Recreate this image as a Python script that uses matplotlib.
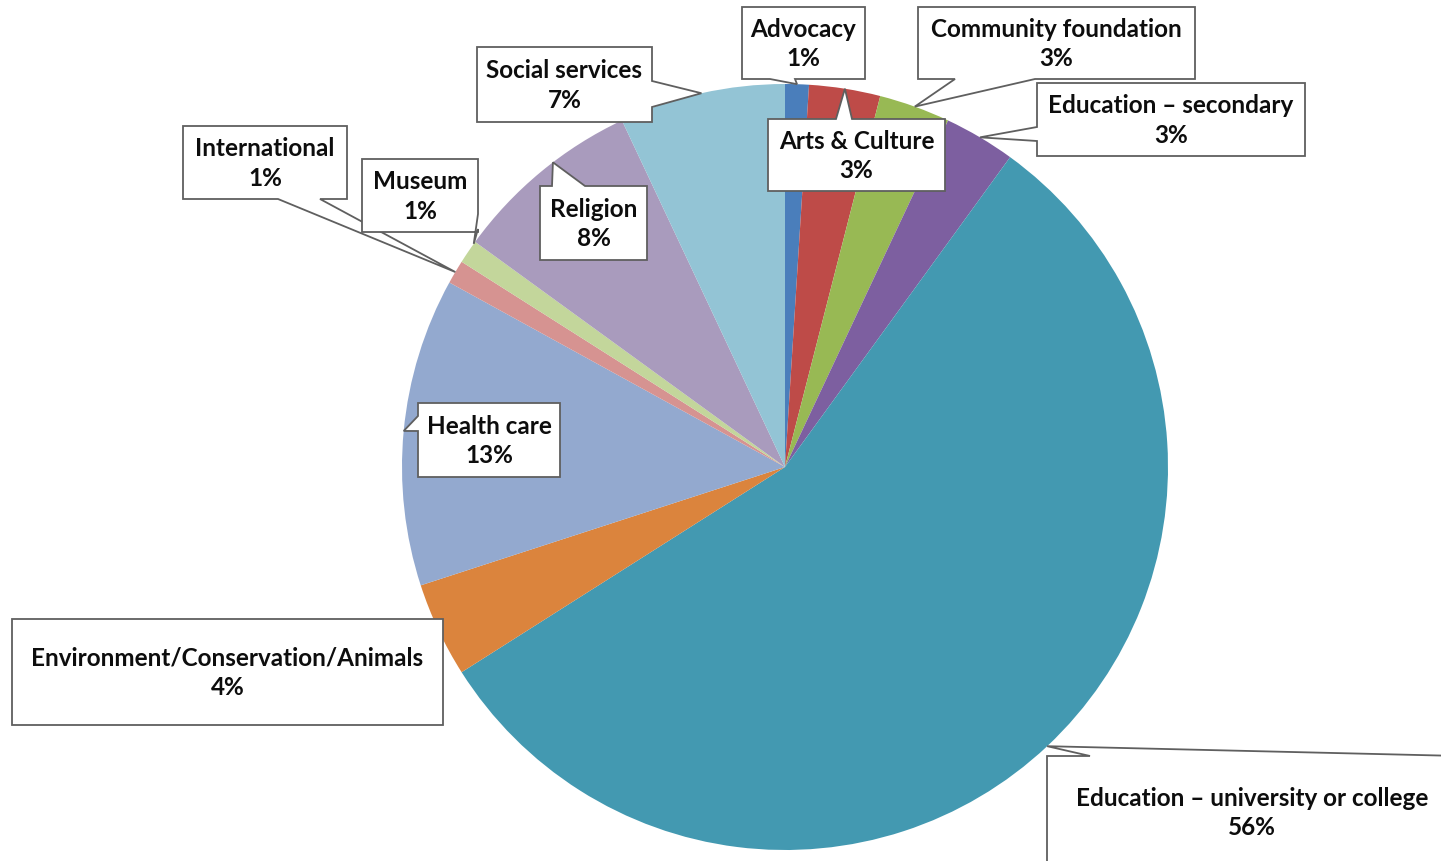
import matplotlib
matplotlib.use('Agg')
import matplotlib.pyplot as plt
from matplotlib.patches import Polygon
import numpy as np

W, H = 1441, 862

categories = [
    'Advocacy', 'Arts & Culture', 'Community foundation', 'Education \u2013 secondary',
    'Education \u2013 university or college', 'Environment/Conservation/Animals',
    'Health care', 'International', 'Museum', 'Religion', 'Social services',
]
values = [1, 3, 3, 3, 56, 4, 13, 1, 1, 8, 7]
colors = ['#4A7EBB', '#BE4B48', '#98B954', '#7D5FA0', '#4399B1', '#DB843D',
          '#93A9CF', '#D69391', '#C3D69B', '#A99BBD', '#93C4D5']

# callout boxes in pixel coords: (x0, y0, x1, y1)
boxes = [
    (742, 8, 865, 80),
    (768, 120, 945, 192),
    (918, 8, 1195, 80),
    (1037, 84, 1305, 157),
    (1047, 757, 1460, 880),
    (12, 620, 443, 726),
    (418, 404, 560, 478),
    (183, 127, 347, 200),
    (362, 160, 478, 233),
    (540, 187, 647, 261),
    (477, 48, 652, 123),
]
# tail: (side, a, b, position inside wedge)
tails = [
    ('bottom', 770, 795, 0.5),
    ('top', 836, 852, 0.5),
    ('bottom', 955, 1035, 0.5),
    ('left', 128, 142, 0.5),
    ('top', 1090, 1460, 0.5),
    None,
    ('left', 417, 432, 0.5),
    ('bottom', 278, 320, 0.5),
    ('right', 215, 230, 0.9),
    ('top', 552, 585, 0.58),
    ('right', 82, 108, 0.5),
]

CX, CY, R = 785, 468, 383

fig = plt.figure(figsize=(W / 100, H / 100), dpi=100)
ax = fig.add_axes([0, 0, 1, 1])

wedges, _ = ax.pie(values, colors=colors, startangle=-90, center=(CX, CY), radius=R,
                   wedgeprops=dict(linewidth=0))
ax.set_xlim(0, W)
ax.set_ylim(H, 0)
ax.set_aspect('equal')
ax.axis('off')


def callout(box, tail, wedge):
    x0, y0, x1, y1 = box
    tl, tr, br, bl = (x0, y0), (x1, y0), (x1, y1), (x0, y1)
    if tail is None:
        return [tl, tr, br, bl]
    side, a, b, t = tail
    th = np.radians(wedge.theta1 + t * (wedge.theta2 - wedge.theta1))
    tip = (CX + R * np.cos(th), CY + R * np.sin(th))
    if side == 'top':
        return [tl, (a, y0), tip, (b, y0), tr, br, bl]
    if side == 'right':
        return [tl, tr, (x1, a), tip, (x1, b), br, bl]
    if side == 'bottom':
        return [tl, tr, br, (b, y1), tip, (a, y1), bl]
    return [tl, tr, br, bl, (x0, b), tip, (x0, a)]


for i, (name, val) in enumerate(zip(categories, values)):
    verts = callout(boxes[i], tails[i], wedges[i])
    ax.add_patch(Polygon(verts, closed=True, facecolor='white', edgecolor='#5f5f5f',
                         linewidth=1.3, zorder=3 + i * 0.1))
    x0, y0, x1, y1 = boxes[i]
    if i == 4:
        cx, cy = 1252, 813
    else:
        cx, cy = (x0 + x1) / 2, (y0 + y1) / 2
    ax.text(cx, cy, f'{name}\n{val}%', ha='center', va='center', fontsize=17.5,
            fontweight='bold', family='Lato', color='#0d0d0d', linespacing=1.35,
            zorder=3 + i * 0.1 + 0.05)

fig.savefig('out.png', dpi=100, facecolor='white')
